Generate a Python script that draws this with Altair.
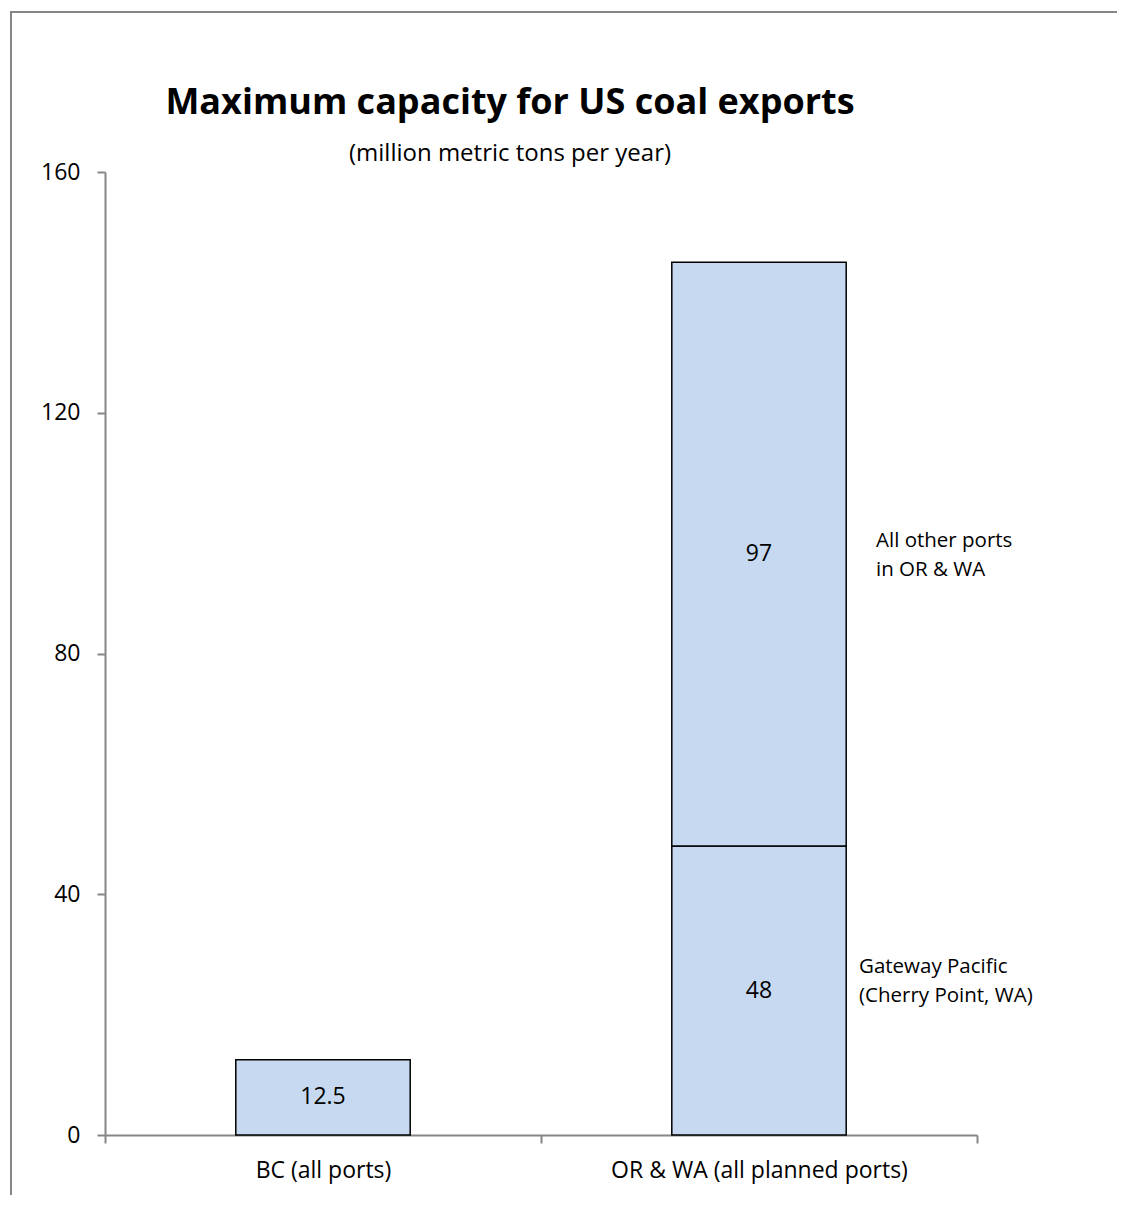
import altair as alt
import pandas as pd

# ---- data ----
categories = ["BC (all ports)", "OR & WA (all planned ports)", "OR & WA (all planned ports)"]
segments = ["BC", "Gateway Pacific", "All other ports"]
values = [12.5, 48, 97]
value_labels = ["12.5", "48", "97"]
category_order = ["BC (all ports)", "OR & WA (all planned ports)"]
annot_segments = ["All other ports", "Gateway Pacific"]
annot_lines = [["All other ports", "in OR & WA"], ["Gateway Pacific", "(Cherry Point, WA)"]]
y_ticks = [0, 40, 80, 120, 160]
title_text = "Maximum capacity for US coal exports"
subtitle_text = "(million metric tons per year)"

FONT = "Open Sans"
AXIS_GRAY = "#868686"
BAR_FILL = "#C6D9F0"

df = pd.DataFrame({"category": categories, "segment": segments,
                   "value": values, "label": value_labels})
df["end"] = df.groupby("category")["value"].cumsum()
df["start"] = df["end"] - df["value"]
df["mid"] = (df["start"] + df["end"]) / 2

ann = pd.DataFrame({"segment": annot_segments, "lines": annot_lines})
ann = ann.merge(df[["segment", "category", "mid"]], on="segment")

x_scale = alt.Scale(domain=category_order, paddingInner=0, paddingOuter=0)
x_enc = alt.X("category:N", scale=x_scale,
              axis=alt.Axis(title=None, labelAngle=0, tickBand="extent", labelLimit=500,
                            labelFont=FONT, labelFontSize=23, labelColor="black",
                            labelPadding=16, tickSize=8, tickWidth=2, tickColor=AXIS_GRAY,
                            domainColor=AXIS_GRAY, domainWidth=2))
y_scale = alt.Scale(domain=[0, 160], nice=False)

bars = alt.Chart(df).mark_bar(fill=BAR_FILL, stroke="black", strokeWidth=1.5,
                              width=alt.RelativeBandSize(0.4)).encode(
    x=x_enc,
    y=alt.Y("start:Q", scale=y_scale,
            axis=alt.Axis(values=y_ticks, title=None, grid=False,
                          labelFont=FONT, labelFontSize=23, labelColor="black",
                          labelPadding=17, tickSize=8, tickWidth=2, tickColor=AXIS_GRAY,
                          domainColor=AXIS_GRAY, domainWidth=2)),
    y2="end:Q",
)

labels = alt.Chart(df).mark_text(font=FONT, fontSize=23, color="black",
                                 baseline="middle", align="center").encode(
    x=alt.X("category:N", scale=x_scale),
    y=alt.Y("mid:Q", scale=y_scale),
    text="label:N",
)

def annot_layer(seg, dx, dy):
    return alt.Chart(ann).transform_filter(alt.datum.segment == seg).mark_text(
        font=FONT, fontSize=20.5, color="black", align="left", baseline="middle",
        lineHeight=29, dx=dx, dy=dy).encode(
        x=alt.X("category:N", scale=x_scale),
        y=alt.Y("mid:Q", scale=y_scale),
        text="lines:N",
    )

ann_top = annot_layer("All other ports", 117, -13)
ann_bottom = annot_layer("Gateway Pacific", 100, -24)

one = pd.DataFrame({"title": [title_text], "subtitle": [subtitle_text]})
title_mark = alt.Chart(one).mark_text(font=FONT, fontSize=36, fontWeight="bold",
                                      color="black", align="center", baseline="alphabetic").encode(
    x=alt.value(405), y=alt.value(-58), text="title:N")
subtitle_mark = alt.Chart(one).mark_text(font=FONT, fontSize=24, color="black",
                                         align="center", baseline="alphabetic").encode(
    x=alt.value(405), y=alt.value(-11), text="subtitle:N")

frame = alt.Chart(one).mark_rect(fill="white", fillOpacity=0, stroke=AXIS_GRAY, strokeWidth=2).encode(
    x=alt.value(-94), x2=alt.value(1100), y=alt.value(-160), y2=alt.value(1100))

chart = alt.layer(frame, bars, labels, ann_top, ann_bottom, title_mark, subtitle_mark).properties(
    width=872, height=963,
    autosize=alt.AutoSizeParams(type="none"),
    padding={"left": 97, "top": 164, "right": 140, "bottom": 60},
).configure_view(stroke="transparent")

chart.save("out.html", embed_options={"renderer": "svg", "actions": False})
